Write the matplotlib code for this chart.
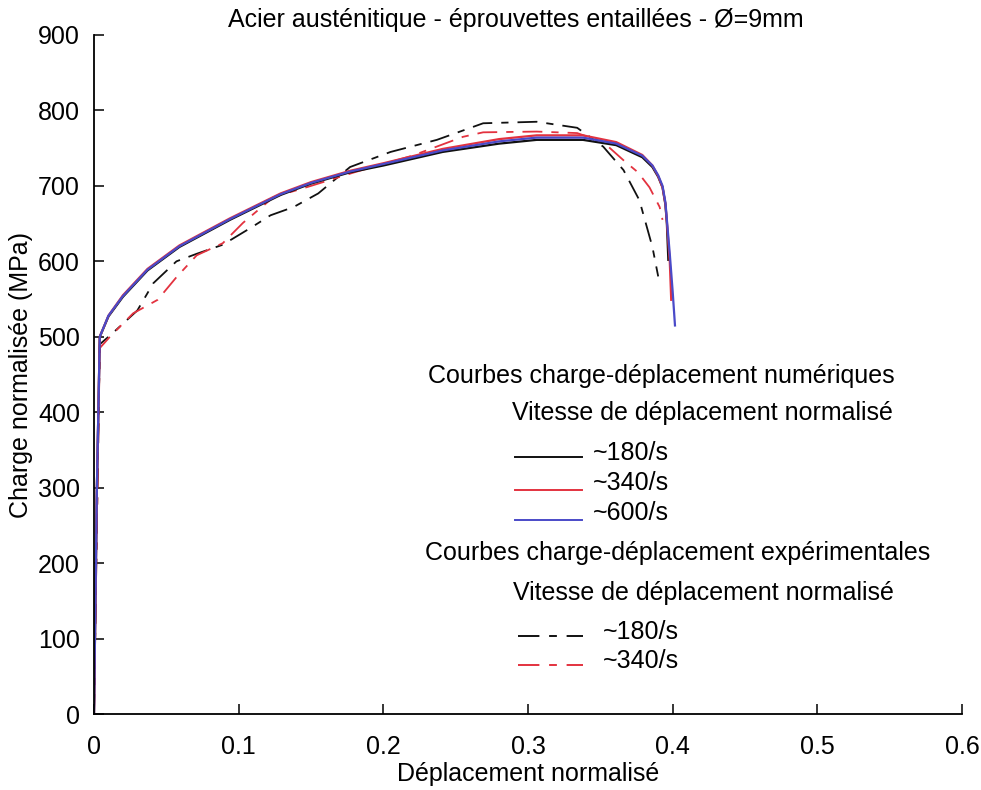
import matplotlib.pyplot as plt
from matplotlib import font_manager

# font: narrow sans if available
names = {f.name for f in font_manager.fontManager.ttflist}
family = ['Liberation Sans Narrow', 'DejaVu Sans'] if 'Liberation Sans Narrow' in names else ['Liberation Sans', 'DejaVu Sans']
plt.rcParams['font.family'] = family

# numerical curves
num_x = [0, 0.002, 0.004, 0.01, 0.02, 0.037, 0.059, 0.094, 0.129, 0.15, 0.177, 0.2, 0.241,
         0.28, 0.306, 0.338, 0.361, 0.379, 0.386, 0.390, 0.393, 0.395, 0.396, 0.397]
num_180 = [0, 300, 500, 527, 553, 588, 619, 655, 688, 703, 718, 727, 745,
           756, 761, 761, 754, 738, 725, 712, 698, 675, 650, 602]
num340_x = num_x[:-1] + [0.398, 0.399]
num_340 = [0, 300, 500, 528, 555, 590, 621, 657, 690, 705, 720, 730, 749,
           762, 767, 767, 758, 741, 727, 713, 698, 676, 652, 600, 549]
num600_x = num_x[:-1] + [0.398, 0.400, 0.4016]
num_600 = [0, 300, 500, 528, 554, 589, 620, 656, 689, 704, 719, 729, 747,
           759, 764, 764, 756, 740, 727, 714, 700, 678, 655, 610, 560, 515]

# experimental curves
exp180_x = [0, 0.002, 0.004, 0.013, 0.030, 0.041, 0.057, 0.071, 0.089, 0.108, 0.122, 0.138,
            0.155, 0.177, 0.205, 0.237, 0.269, 0.306, 0.334, 0.352, 0.366, 0.377, 0.386, 0.390]
exp_180 = [0, 250, 490, 505, 535, 571, 600, 610, 622, 644, 661, 672,
           690, 725, 745, 761, 783, 785, 777, 752, 721, 681, 619, 580]
exp340_x = [0, 0.002, 0.004, 0.011, 0.027, 0.044, 0.057, 0.071, 0.089, 0.103, 0.124, 0.15,
            0.18, 0.22, 0.255, 0.269, 0.306, 0.334, 0.352, 0.366, 0.376, 0.384, 0.391, 0.393]
exp_340 = [0, 250, 485, 500, 531, 549, 579, 608, 624, 651, 685, 700,
           718, 740, 765, 771, 772, 770, 758, 734, 718, 698, 672, 655]

black = '#111111'
red = '#e3323f'
blue = '#4a4ac8'
dash = (0, (11, 5, 4, 5))

fig = plt.figure(figsize=(9.81, 7.9), dpi=100)
ax = fig.add_axes([94 / 981, 76 / 790, 868 / 981, 679 / 790])

ax.plot(exp180_x, exp_180, color=black, lw=1.3, linestyle=dash)
ax.plot(exp340_x, exp_340, color=red, lw=1.3, linestyle=dash)
ax.plot(num_x, num_180, color=black, lw=1.6)
ax.plot(num340_x, num_340, color=red, lw=1.6)
ax.plot(num600_x, num_600, color=blue, lw=1.6)

ax.set_xlim(0, 0.6)
ax.set_ylim(0, 900)
ax.set_xticks([0, 0.1, 0.2, 0.3, 0.4, 0.5, 0.6])
ax.set_xticklabels(['0', '0.1', '0.2', '0.3', '0.4', '0.5', '0.6'])
ax.set_yticks(range(0, 901, 100))
ax.spines['top'].set_visible(False)
ax.spines['right'].set_visible(False)
ax.spines['left'].set_linewidth(1.3)
ax.spines['bottom'].set_linewidth(1.3)
ax.tick_params(direction='in', length=7, width=1.1, labelsize=18)
ax.tick_params(axis='x', pad=15)
ax.tick_params(axis='y', pad=10)

ax.set_xlabel('Déplacement normalisé', fontsize=18)
ax.set_ylabel('Charge normalisée (MPa)', fontsize=18)
ax.xaxis.set_label_coords(0.5, (714 - 762) / 679)
ax.yaxis.set_label_coords((33 - 94) / 868, 0.5)
fig.text(516 / 981, 1 - 20 / 790, 'Acier austénitique - éprouvettes entaillées - Ø=9mm',
         ha='center', va='center', fontsize=18)

# legend drawn by hand (pixel positions -> axes coords)
def ax_xy(px, py):
    return (px - 94) / 868, (714 - py) / 679

fs = 18
for txt, px, py in [('Courbes charge-déplacement numériques', 428, 376),
                    ('Vitesse de déplacement normalisé', 512, 413),
                    ('Courbes charge-déplacement expérimentales', 425, 553),
                    ('Vitesse de déplacement normalisé', 513, 593)]:
    x, y = ax_xy(px, py)
    ax.text(x, y, txt, transform=ax.transAxes, ha='left', va='center', fontsize=fs)

legend_items = [('~180/s', black, '-', 515, 582, 457, 593, 453),
                ('~340/s', red, '-', 515, 582, 490, 593, 483),
                ('~600/s', blue, '-', 515, 582, 520, 593, 513),
                ('~180/s', black, dash, 518, 583, 636, 603, 632),
                ('~340/s', red, dash, 518, 583, 665, 603, 661)]
for lab, col, ls, x0, x1, ly, tx, ty in legend_items:
    a0, b0 = ax_xy(x0, ly)
    a1, _ = ax_xy(x1, ly)
    ax.plot([a0, a1], [b0, b0], transform=ax.transAxes, color=col, lw=1.4, linestyle=ls)
    a, b = ax_xy(tx, ty)
    ax.text(a, b, lab, transform=ax.transAxes, ha='left', va='center', fontsize=fs)

fig.savefig('out.png', dpi=100)
